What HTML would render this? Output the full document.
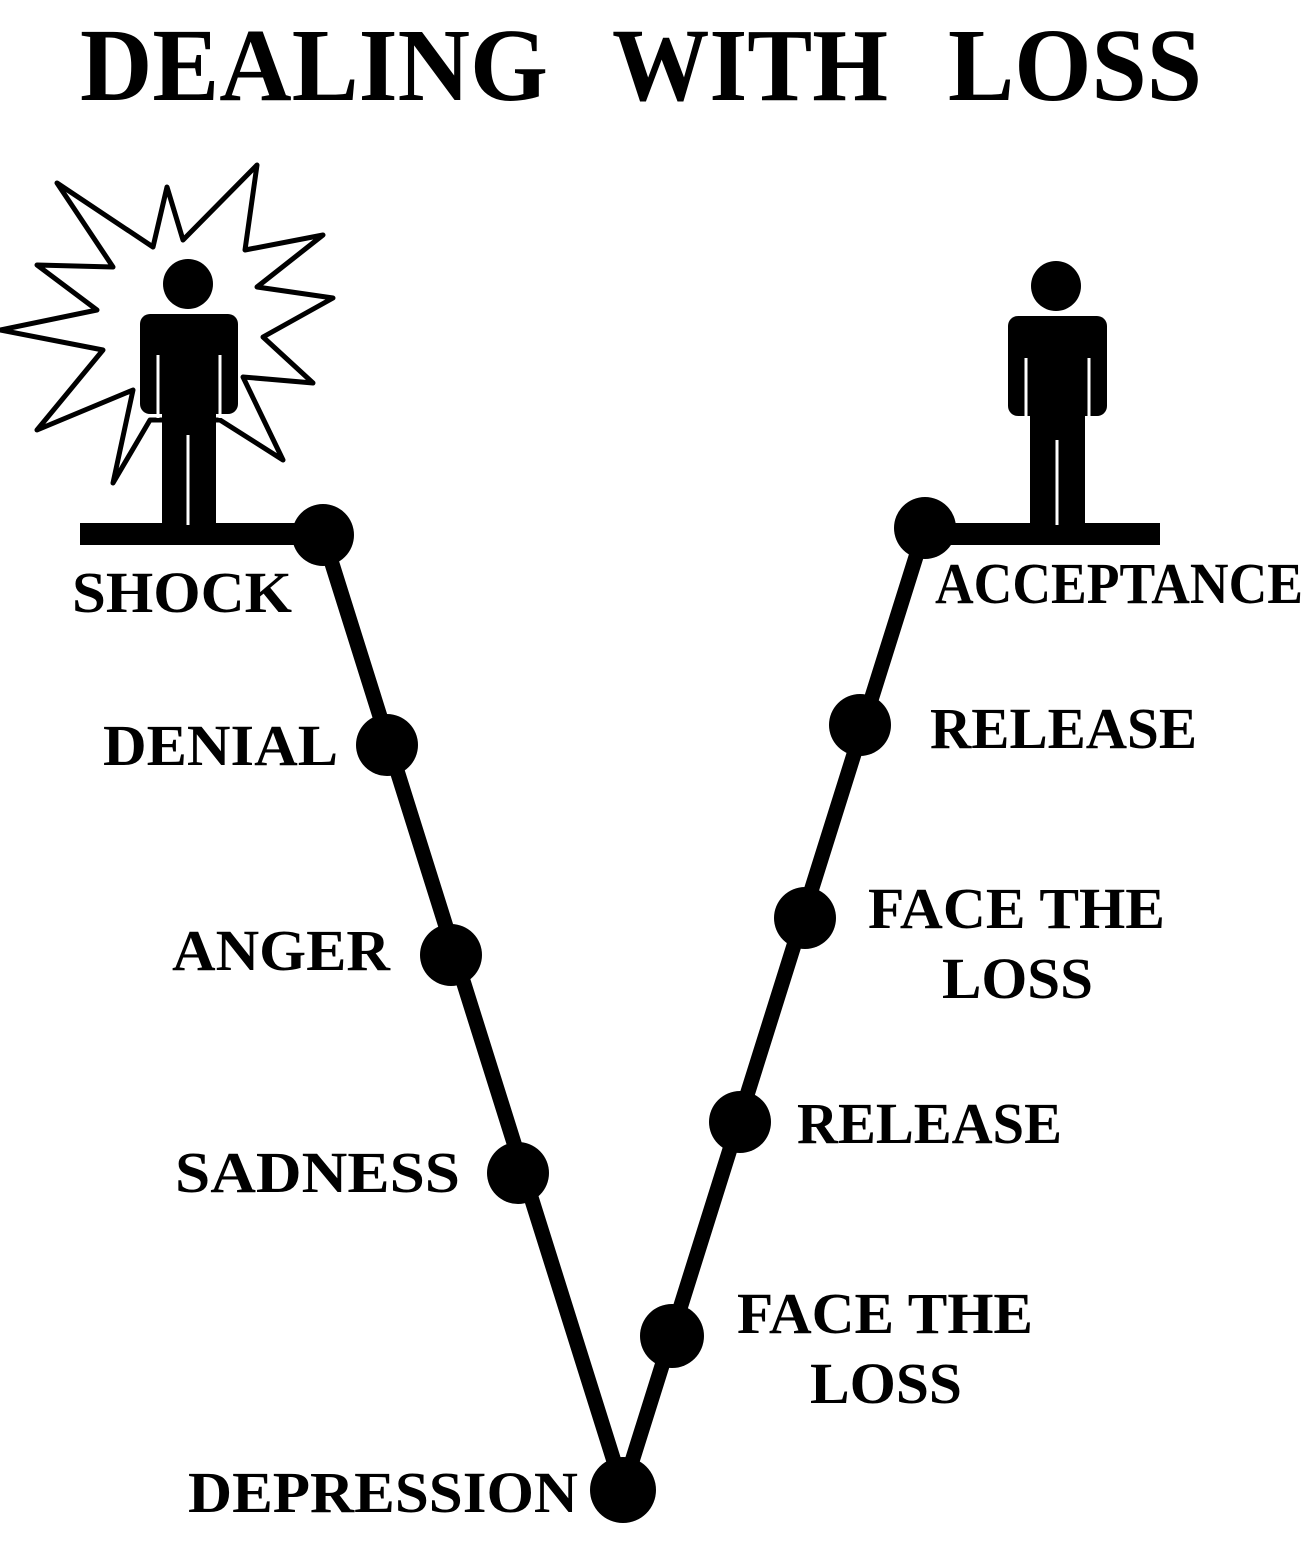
<!DOCTYPE html>
<html><head><style>html,body{margin:0;padding:0;background:#fff;width:1316px;height:1560px;overflow:hidden}</style></head>
<body>
<svg width="1316" height="1560" viewBox="0 0 1316 1560" xmlns="http://www.w3.org/2000/svg" font-family="'Liberation Serif', serif" font-weight="bold">
<g font-size="104">
<text x="80" y="100" textLength="468" lengthAdjust="spacingAndGlyphs">DEALING</text>
<text x="612" y="100" textLength="276" lengthAdjust="spacingAndGlyphs">WITH</text>
<text x="948" y="100" textLength="254" lengthAdjust="spacingAndGlyphs">LOSS</text>
</g>
<polygon points="57,183 153,247 167,187 183,240 257,165 245,250 323,235 257,287 333,298 263,337 313,383 243,377 283,460 220,420 150,420 113,483 133,390 37,430 103,350 0,330 97,310 37,265 113,267" fill="#fff" stroke="#000" stroke-width="5" stroke-linejoin="round"/>
<g fill="#000">
<circle cx="188" cy="284" r="25"/>
<rect x="140" y="314" width="98" height="100" rx="10"/>
<rect x="162" y="330" width="54" height="195"/>
<rect x="80" y="523" width="250" height="22"/>
<circle cx="1056" cy="286" r="25"/>
<rect x="1008" y="316" width="99" height="100" rx="10"/>
<rect x="1030" y="330" width="55" height="195"/>
<rect x="920" y="523" width="240" height="22"/>
</g>
<g stroke="#fff" stroke-width="3">
<line x1="158" y1="355" x2="158" y2="418"/><line x1="220" y1="355" x2="220" y2="418"/>
<line x1="188" y1="435" x2="188" y2="525"/>
<line x1="1026" y1="358" x2="1026" y2="420"/><line x1="1089" y1="358" x2="1089" y2="420"/>
<line x1="1057" y1="440" x2="1057" y2="525"/>
</g>
<polyline points="323,535 623,1490 925,528" fill="none" stroke="#000" stroke-width="15" stroke-linejoin="round"/>
<g fill="#000">
<circle cx="323" cy="535" r="31"/><circle cx="387" cy="745" r="31"/><circle cx="451" cy="955" r="31"/><circle cx="518" cy="1173" r="31"/>
<circle cx="623" cy="1490" r="33"/><circle cx="672" cy="1336" r="32"/><circle cx="740" cy="1122" r="31"/><circle cx="805" cy="918" r="31"/><circle cx="860" cy="725" r="31"/><circle cx="925" cy="528" r="31"/>
</g>
<g font-size="58">
<text x="72" y="612" textLength="220" lengthAdjust="spacingAndGlyphs">SHOCK</text>
<text x="103" y="765" textLength="235" lengthAdjust="spacingAndGlyphs">DENIAL</text>
<text x="172" y="970" textLength="218" lengthAdjust="spacingAndGlyphs">ANGER</text>
<text x="175" y="1192" textLength="285" lengthAdjust="spacingAndGlyphs">SADNESS</text>
<text x="188" y="1512" textLength="390" lengthAdjust="spacingAndGlyphs">DEPRESSION</text>
<text x="935" y="603" textLength="368" lengthAdjust="spacingAndGlyphs">ACCEPTANCE</text>
<text x="930" y="748" textLength="267" lengthAdjust="spacingAndGlyphs">RELEASE</text>
<text x="868" y="928" textLength="297" lengthAdjust="spacingAndGlyphs">FACE THE</text>
<text x="942" y="998" textLength="151" lengthAdjust="spacingAndGlyphs">LOSS</text>
<text x="797" y="1143" textLength="265" lengthAdjust="spacingAndGlyphs">RELEASE</text>
<text x="737" y="1333" textLength="296" lengthAdjust="spacingAndGlyphs">FACE THE</text>
<text x="810" y="1403" textLength="152" lengthAdjust="spacingAndGlyphs">LOSS</text>
</g>
</svg>
</body></html>
